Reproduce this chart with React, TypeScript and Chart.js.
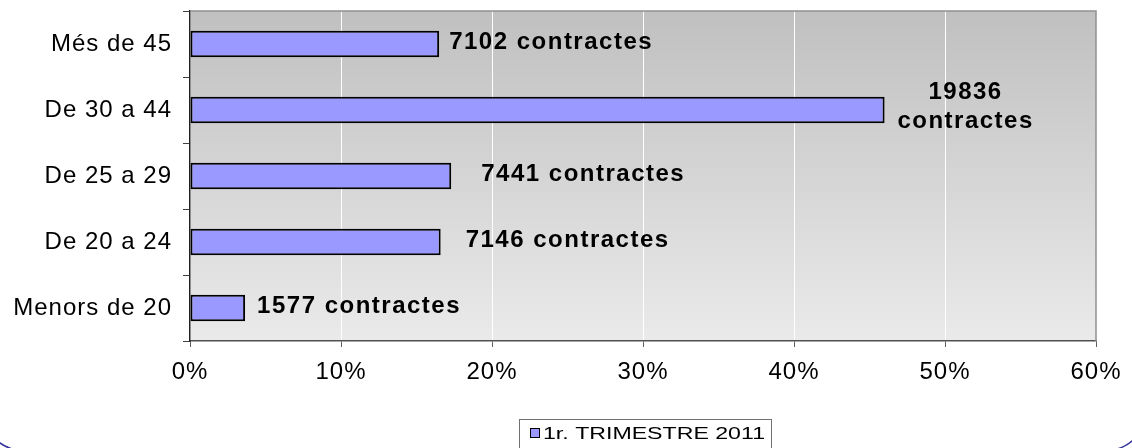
import React, { useEffect, useRef } from 'react';
import { Chart, registerables } from 'chart.js';

Chart.register(...registerables);

// ---- data ----
const categories = ['Més de 45', 'De 30 a 44', 'De 25 a 29', 'De 20 a 24', 'Menors de 20'];
const percentValues = [16.5, 46.0, 17.3, 16.6, 3.65];
const contractCounts = [7102, 19836, 7441, 7146, 1577];
const xTickValues = [0, 10, 20, 30, 40, 50, 60];
const seriesName = '1r. TRIMESTRE 2011';
const labelUnit = 'contractes';

// ---- style ----
const FONT = "'Liberation Sans', Arial, sans-serif";
const TICK_SPACING = '1px';
const labelOffsets = [10, 0, 30, 25, 12];
const twoLineLabel = [false, true, false, false, false];

const decorPlugin = {
  id: 'decor',
  beforeLayout(chart: any) {
    chart.ctx.letterSpacing = TICK_SPACING;
  },
  beforeDraw(chart: any) {
    const { ctx, chartArea: a } = chart;
    ctx.save();
    const g = ctx.createLinearGradient(0, a.top, 0, a.bottom);
    g.addColorStop(0, '#c0c0c0');
    g.addColorStop(1, '#eaeaea');
    ctx.fillStyle = g;
    ctx.fillRect(a.left, a.top, a.right - a.left, a.bottom - a.top);
    ctx.restore();
    ctx.letterSpacing = TICK_SPACING;
  },
  afterDatasetsDraw(chart: any) {
    const { ctx, chartArea: a } = chart;
    // plot border top & right
    ctx.save();
    ctx.strokeStyle = '#909090';
    ctx.lineWidth = 1.5;
    ctx.beginPath();
    ctx.moveTo(a.left, a.top);
    ctx.lineTo(a.right, a.top);
    ctx.lineTo(a.right, a.bottom);
    ctx.stroke();
    ctx.restore();

    // data labels
    const meta = chart.getDatasetMeta(0);
    ctx.save();
    ctx.font = `bold 24px ${FONT}`;
    ctx.letterSpacing = '1.5px';
    ctx.fillStyle = '#000';
    ctx.textBaseline = 'middle';
    meta.data.forEach((bar: any, i: number) => {
      const count = String(contractCounts[i]);
      if (twoLineLabel[i]) {
        ctx.textAlign = 'center';
        const cx = bar.x + 81;
        ctx.fillText(count, cx, bar.y - 18);
        ctx.fillText(labelUnit, cx, bar.y + 11);
      } else {
        ctx.textAlign = 'left';
        ctx.fillText(`${count} ${labelUnit}`, bar.x + labelOffsets[i], bar.y - 2);
      }
    });
    ctx.restore();
  },
  afterDraw(chart: any) {
    const { ctx } = chart;
    // legend
    ctx.save();
    ctx.letterSpacing = '0px';
    ctx.fillStyle = '#ffffff';
    ctx.fillRect(519.5, 419.5, 252, 40);
    ctx.strokeStyle = '#707070';
    ctx.lineWidth = 1;
    ctx.strokeRect(519.5, 419.5, 252, 40);
    ctx.fillStyle = '#9999ff';
    ctx.fillRect(530, 428, 10, 10);
    ctx.strokeStyle = '#000';
    ctx.strokeRect(530.5, 428.5, 9, 9);
    ctx.font = `16px ${FONT}`;
    ctx.fillStyle = '#000';
    ctx.textBaseline = 'alphabetic';
    ctx.textAlign = 'left';
    const w = ctx.measureText(seriesName).width;
    const sx = 222 / w;
    ctx.translate(543, 439);
    ctx.scale(sx, 1);
    ctx.fillText(seriesName, 0, 0);
    ctx.restore();

    // outer rounded frame
    ctx.save();
    ctx.strokeStyle = '#333399';
    ctx.lineWidth = 1.5;
    ctx.beginPath();
    (ctx as any).roundRect(-16.8, -100, 1163, 550.4, 40);
    ctx.stroke();
    ctx.restore();
  },
};

export default function App() {
  const ref = useRef<HTMLCanvasElement | null>(null);
  useEffect(() => {
    if (!ref.current) return;
    const chart = new Chart(ref.current, {
      type: 'bar',
      data: {
        labels: categories,
        datasets: [
          {
            label: seriesName,
            data: percentValues,
            backgroundColor: '#9999ff',
            borderColor: '#000000',
            borderWidth: 2,
            borderSkipped: false,
            barPercentage: 0.4,
            categoryPercentage: 1,
          },
        ],
      },
      options: {
        indexAxis: 'y',
        animation: false,
        responsive: true,
        maintainAspectRatio: false,
        layout: { padding: { top: 11, right: 36, left: 0, bottom: 57 } },
        plugins: {
          legend: { display: false },
          tooltip: { enabled: false },
        },
        scales: {
          x: {
            min: 0,
            max: 60,
            afterBuildTicks: (s: any) => {
              s.ticks = xTickValues.map((v) => ({ value: v }));
            },
            ticks: {
              callback: (v: any) => `${v}%`,
              font: { family: FONT, size: 24 },
              color: '#000000',
              padding: 11,
              maxRotation: 0,
            },
            grid: {
              color: '#ffffff',
              lineWidth: 1,
              tickColor: '#606060',
              tickLength: 6,
              drawTicks: true,
            },
            border: { color: '#505050', width: 1.5 },
            afterFit: (s: any) => {
              s.height = 50;
              s.paddingLeft = 0;
              s.paddingRight = 0;
            },
          },
          y: {
            ticks: {
              font: { family: FONT, size: 24 },
              color: '#000000',
              padding: 11,
            },
            grid: {
              drawOnChartArea: false,
              color: '#404040',
              tickLength: 7,
              offset: true,
            },
            border: { color: '#202020', width: 1.5 },
            afterFit: (s: any) => {
              s.width = 190;
              s.paddingTop = 0;
              s.paddingBottom = 0;
            },
          },
        },
      } as any,
      plugins: [decorPlugin],
    });
    return () => chart.destroy();
  }, []);
  return (
    <div style={{ position: 'absolute', left: 0, top: 0, width: 1132, height: 448 }}>
      <canvas ref={ref} />
    </div>
  );
}
